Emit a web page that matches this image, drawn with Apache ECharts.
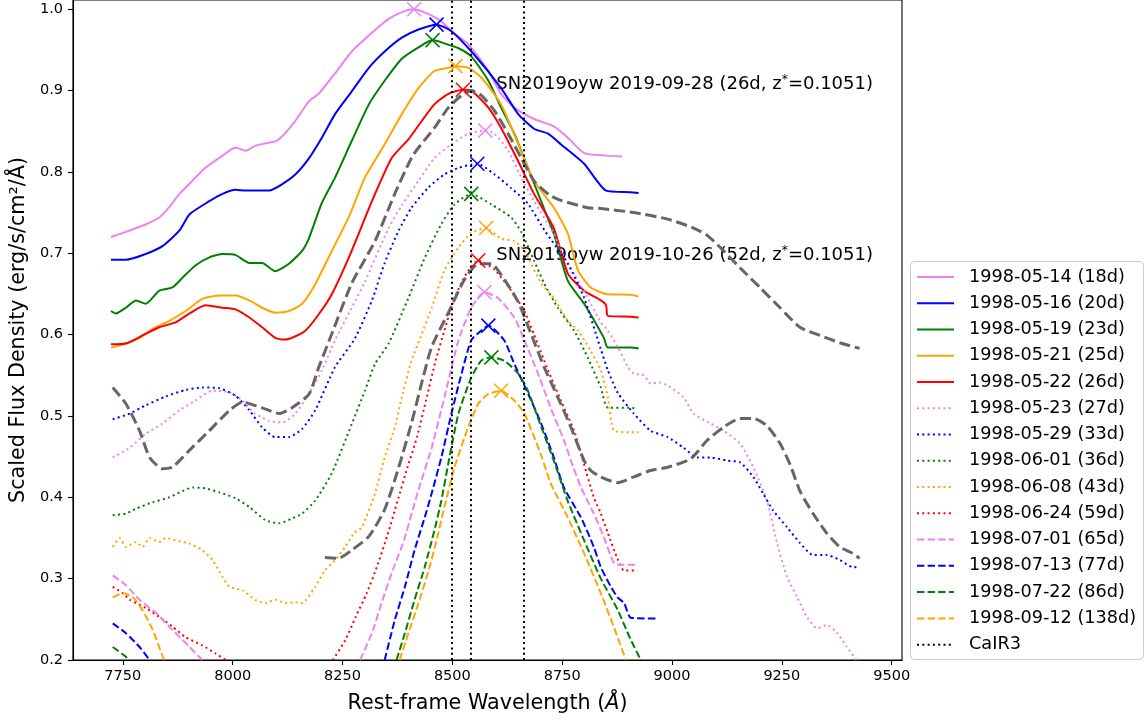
<!DOCTYPE html>
<html>
<head>
<meta charset="utf-8">
<script src="https://cdn.jsdelivr.net/npm/echarts@6/dist/echarts.min.js"></script>
<style>
  html, body { margin: 0; padding: 0; background: #fff; }
  #chart { width: 1144px; height: 721px; }
</style>
</head>
<body>
<div id="chart"></div>
<script>
// axis ticks
const xTicks = [7750, 8000, 8250, 8500, 8750, 9000, 9250, 9500];
const yTicks = [0.2, 0.3, 0.4, 0.5, 0.6, 0.7, 0.8, 0.9, 1.0];

// CaII IR triplet (rest wavelengths)
const caIR3 = [8498.02, 8542.09, 8662.14];

const names = ['1998-05-14 (18d)', '1998-05-16 (20d)', '1998-05-19 (23d)', '1998-05-21 (25d)', '1998-05-22 (26d)',
  '1998-05-23 (27d)', '1998-05-29 (33d)', '1998-06-01 (36d)', '1998-06-08 (43d)', '1998-06-24 (59d)',
  '1998-07-01 (65d)', '1998-07-13 (77d)', '1998-07-22 (86d)', '1998-09-12 (138d)'];

// peak positions (x markers)
const peakWl = [8413, 8464, 8455, 8507, 8524, 8575, 8557, 8543, 8577, 8559, 8573, 8582, 8589, 8611];
const peakFlux = [1.0, 0.981, 0.962, 0.93, 0.901, 0.851, 0.81, 0.773, 0.731, 0.691, 0.652, 0.611, 0.572, 0.531];

// spectra, [wavelength, scaled flux]
const may14 = [[7723,0.72],[7766,0.728],[7800,0.735],[7833,0.744],[7856,0.757],[7879,0.773],[7910,0.79],[7938,0.805],[7977,0.82],[8006,0.83],[8030,0.826],[8051,0.832],[8083,0.836],[8100,0.838],[8120,0.848],[8143,0.863],[8174,0.887],[8196,0.896],[8233,0.921],[8271,0.948],[8317,0.971],[8355,0.988],[8392,0.998],[8413,1.0],[8446,0.994],[8475,0.985],[8498,0.973],[8536,0.957],[8582,0.924],[8611,0.896],[8641,0.879],[8686,0.865],[8731,0.856],[8763,0.842],[8800,0.823],[8850,0.82],[8886,0.819]];
const may16 = [[7723,0.692],[7757,0.692],[7802,0.699],[7841,0.709],[7879,0.728],[7902,0.748],[7947,0.764],[7977,0.773],[8006,0.778],[8030,0.777],[8051,0.777],[8083,0.777],[8113,0.785],[8143,0.797],[8174,0.817],[8203,0.842],[8233,0.871],[8271,0.899],[8310,0.928],[8346,0.948],[8385,0.965],[8423,0.975],[8464,0.981],[8498,0.973],[8550,0.944],[8611,0.903],[8650,0.871],[8686,0.853],[8718,0.847],[8747,0.834],[8800,0.81],[8850,0.777],[8906,0.775],[8924,0.774]];
const may19 = [[7723,0.629],[7734,0.626],[7757,0.633],[7780,0.642],[7802,0.638],[7833,0.654],[7863,0.658],[7886,0.67],[7915,0.685],[7947,0.695],[7977,0.699],[8006,0.698],[8038,0.688],[8067,0.688],[8097,0.678],[8128,0.687],[8158,0.703],[8174,0.719],[8203,0.762],[8233,0.793],[8271,0.838],[8310,0.883],[8346,0.912],[8385,0.939],[8423,0.953],[8455,0.962],[8482,0.958],[8514,0.952],[8543,0.942],[8582,0.912],[8611,0.879],[8641,0.847],[8672,0.805],[8702,0.764],[8731,0.724],[8763,0.666],[8800,0.638],[8845,0.596],[8854,0.584],[8906,0.584],[8924,0.583]];
const may21 = [[7723,0.584],[7757,0.589],[7788,0.596],[7818,0.607],[7856,0.617],[7893,0.629],[7931,0.644],[7970,0.648],[8006,0.648],[8038,0.642],[8067,0.633],[8097,0.627],[8128,0.629],[8158,0.638],[8188,0.662],[8226,0.703],[8264,0.744],[8301,0.793],[8346,0.834],[8385,0.871],[8423,0.903],[8459,0.924],[8491,0.928],[8507,0.93],[8536,0.928],[8566,0.916],[8611,0.883],[8650,0.834],[8686,0.789],[8731,0.756],[8763,0.724],[8786,0.679],[8815,0.658],[8850,0.65],[8906,0.649],[8924,0.647]];
const may22 = [[7723,0.588],[7757,0.589],[7795,0.599],[7833,0.609],[7870,0.615],[7902,0.626],[7938,0.636],[7977,0.633],[8006,0.631],[8038,0.621],[8067,0.609],[8097,0.596],[8120,0.594],[8143,0.598],[8166,0.605],[8196,0.625],[8226,0.65],[8271,0.703],[8317,0.764],[8362,0.817],[8400,0.84],[8423,0.857],[8459,0.883],[8491,0.896],[8524,0.901],[8543,0.9],[8582,0.879],[8611,0.854],[8650,0.813],[8686,0.773],[8731,0.731],[8763,0.675],[8800,0.654],[8838,0.642],[8850,0.636],[8854,0.623],[8906,0.622],[8924,0.621]];
const may23 = [[7727,0.449],[7766,0.461],[7802,0.478],[7841,0.491],[7879,0.507],[7915,0.519],[7954,0.531],[7993,0.529],[8022,0.519],[8051,0.503],[8083,0.494],[8113,0.492],[8143,0.503],[8174,0.528],[8203,0.556],[8233,0.593],[8271,0.633],[8301,0.665],[8355,0.731],[8385,0.759],[8423,0.789],[8459,0.817],[8498,0.834],[8536,0.847],[8575,0.851],[8596,0.847],[8627,0.826],[8657,0.793],[8686,0.764],[8731,0.724],[8747,0.703],[8777,0.675],[8808,0.645],[8838,0.615],[8854,0.605],[8877,0.584],[8900,0.56],[8913,0.552],[8936,0.55],[8951,0.54],[8974,0.541],[8997,0.535],[9026,0.523],[9049,0.503],[9087,0.491],[9117,0.482],[9155,0.466],[9185,0.437],[9216,0.396],[9239,0.344],[9262,0.302],[9285,0.277],[9307,0.253],[9330,0.239],[9352,0.243],[9375,0.234],[9398,0.216],[9420,0.2]];
const may29 = [[7727,0.496],[7766,0.503],[7802,0.513],[7848,0.524],[7893,0.532],[7931,0.535],[7970,0.534],[8006,0.525],[8038,0.507],[8067,0.486],[8097,0.474],[8128,0.474],[8158,0.484],[8188,0.507],[8233,0.56],[8278,0.595],[8317,0.642],[8346,0.688],[8378,0.728],[8407,0.756],[8446,0.781],[8482,0.797],[8514,0.805],[8557,0.81],[8596,0.797],[8634,0.78],[8672,0.761],[8710,0.728],[8763,0.687],[8800,0.645],[8838,0.582],[8854,0.556],[8877,0.528],[8913,0.503],[8951,0.482],[8990,0.474],[9026,0.461],[9058,0.449],[9087,0.449],[9126,0.445],[9155,0.443],[9185,0.425],[9207,0.405],[9230,0.384],[9262,0.363],[9291,0.344],[9321,0.329],[9352,0.329],[9382,0.323],[9412,0.314],[9427,0.315]];
const jun01 = [[7727,0.378],[7757,0.38],[7780,0.386],[7818,0.394],[7856,0.4],[7879,0.406],[7909,0.412],[7938,0.411],[7970,0.406],[8006,0.399],[8038,0.388],[8074,0.372],[8106,0.368],[8135,0.374],[8158,0.38],[8188,0.396],[8226,0.43],[8271,0.49],[8301,0.531],[8324,0.564],[8355,0.589],[8400,0.645],[8437,0.694],[8475,0.736],[8505,0.76],[8543,0.773],[8589,0.76],[8634,0.744],[8657,0.726],[8686,0.691],[8709,0.663],[8740,0.633],[8777,0.605],[8808,0.572],[8838,0.535],[8854,0.51],[8906,0.51],[8921,0.509]];
const jun08 = [[7727,0.339],[7743,0.35],[7757,0.339],[7780,0.345],[7795,0.339],[7811,0.35],[7833,0.345],[7848,0.35],[7870,0.347],[7902,0.343],[7931,0.335],[7954,0.323],[7977,0.302],[7993,0.29],[8022,0.286],[8051,0.274],[8074,0.27],[8097,0.274],[8120,0.27],[8143,0.271],[8158,0.27],[8188,0.29],[8210,0.31],[8233,0.323],[8256,0.339],[8278,0.357],[8294,0.363],[8324,0.405],[8346,0.449],[8369,0.486],[8385,0.523],[8407,0.568],[8430,0.6],[8453,0.633],[8482,0.679],[8514,0.707],[8543,0.725],[8577,0.731],[8611,0.718],[8641,0.715],[8664,0.703],[8702,0.663],[8731,0.645],[8763,0.617],[8786,0.605],[8815,0.58],[8838,0.556],[8854,0.523],[8868,0.482],[8906,0.48],[8924,0.48]];
const jun24a = [[7727,0.29],[7750,0.282],[7766,0.274],[7802,0.264],[7833,0.253],[7863,0.241],[7893,0.228],[7931,0.218],[7961,0.208],[7984,0.2]];
const jun24b = [[8228,0.2],[8256,0.224],[8280,0.253],[8305,0.282],[8328,0.314],[8352,0.353],[8375,0.395],[8398,0.437],[8420,0.475],[8440,0.519],[8462,0.568],[8482,0.605],[8505,0.645],[8532,0.675],[8559,0.691],[8596,0.68],[8634,0.654],[8664,0.629],[8686,0.6],[8718,0.556],[8747,0.519],[8777,0.482],[8800,0.44],[8822,0.4],[8838,0.38],[8854,0.356],[8877,0.323],[8891,0.31],[8921,0.31]];
const jul01a = [[7727,0.304],[7757,0.292],[7788,0.274],[7825,0.258],[7863,0.237],[7902,0.216],[7931,0.2]];
const jul01b = [[8290,0.2],[8317,0.233],[8339,0.27],[8362,0.307],[8390,0.347],[8410,0.385],[8423,0.409],[8453,0.461],[8482,0.523],[8514,0.593],[8543,0.633],[8573,0.652],[8604,0.645],[8641,0.621],[8664,0.593],[8695,0.552],[8724,0.51],[8754,0.47],[8770,0.445],[8793,0.412],[8822,0.38],[8845,0.351],[8868,0.319],[8883,0.317],[8921,0.317]];
const jul13a = [[7727,0.245],[7757,0.233],[7788,0.216],[7811,0.2]];
const jul13b = [[8346,0.2],[8369,0.249],[8392,0.29],[8414,0.335],[8437,0.375],[8453,0.405],[8475,0.449],[8498,0.503],[8521,0.552],[8543,0.593],[8566,0.605],[8582,0.611],[8618,0.593],[8641,0.564],[8672,0.528],[8702,0.491],[8731,0.449],[8754,0.412],[8793,0.375],[8822,0.339],[8838,0.314],[8861,0.29],[8876,0.277],[8891,0.27],[8906,0.252],[8963,0.251]];
const jul22a = [[7727,0.216],[7757,0.204],[7761,0.2]];
const jul22b = [[8373,0.2],[8392,0.233],[8414,0.274],[8437,0.314],[8459,0.359],[8475,0.396],[8491,0.442],[8514,0.503],[8543,0.547],[8566,0.568],[8589,0.572],[8618,0.568],[8650,0.552],[8672,0.531],[8700,0.49],[8731,0.445],[8763,0.395],[8800,0.347],[8838,0.3],[8876,0.262],[8906,0.225],[8929,0.2]];
const sep12a = [[7727,0.277],[7750,0.282],[7773,0.277],[7795,0.261],[7818,0.237],[7841,0.204],[7845,0.2]];
const sep12b = [[8380,0.2],[8400,0.233],[8423,0.27],[8446,0.31],[8464,0.347],[8482,0.388],[8505,0.437],[8536,0.486],[8559,0.515],[8582,0.527],[8611,0.531],[8641,0.519],[8664,0.503],[8702,0.452],[8724,0.417],[8763,0.375],[8800,0.331],[8838,0.282],[8868,0.24],[8895,0.2]];

// SN2019oyw comparison spectra
const oywSep28 = [[7727,0.535],[7757,0.515],[7788,0.482],[7811,0.449],[7841,0.435],[7863,0.437],[7902,0.458],[7947,0.482],[7993,0.507],[8022,0.517],[8067,0.51],[8106,0.503],[8135,0.51],[8174,0.527],[8196,0.56],[8230,0.607],[8271,0.663],[8324,0.715],[8369,0.773],[8410,0.82],[8459,0.854],[8491,0.879],[8521,0.894],[8543,0.9],[8566,0.894],[8596,0.875],[8627,0.847],[8657,0.817],[8686,0.789],[8720,0.772],[8747,0.765],[8808,0.756],[8838,0.755],[8913,0.75],[8990,0.742],[9049,0.731],[9080,0.722],[9110,0.707],[9155,0.682],[9200,0.658],[9246,0.633],[9291,0.609],[9337,0.599],[9382,0.59],[9427,0.583]];
const oywOct26 = [[8210,0.326],[8241,0.325],[8271,0.335],[8310,0.352],[8346,0.385],[8378,0.437],[8407,0.491],[8430,0.54],[8453,0.585],[8491,0.627],[8527,0.667],[8559,0.687],[8589,0.687],[8618,0.668],[8650,0.64],[8679,0.601],[8709,0.56],[8740,0.523],[8770,0.486],[8800,0.445],[8815,0.433],[8838,0.425],[8876,0.418],[8913,0.425],[8951,0.433],[8990,0.437],[9042,0.447],[9080,0.47],[9117,0.486],[9155,0.497],[9185,0.497],[9216,0.488],[9246,0.466],[9269,0.44],[9291,0.408],[9321,0.38],[9352,0.356],[9382,0.339],[9412,0.331],[9427,0.325]];

const oywLabels = ['SN2019oyw 2019-09-28 (26d, z{s|*}=0.1051)', 'SN2019oyw 2019-10-26 (52d, z{s|*}=0.1051)'];
const oywLabelPos = [[8600, 0.9], [8600, 0.69]];

const spectra = [[may14], [may16], [may19], [may21], [may22], [may23], [may29], [jun01], [jun08],
  [jun24a, jun24b], [jul01a, jul01b], [jul13a, jul13b], [jul22a, jul22b], [sep12a, sep12b]];

const colors = ['#ee82ee', '#0000ff', '#008000', '#ffa500', '#ff0000'];
const FONT = '"DejaVu Sans", sans-serif';
const DOT = [2, 3.3];
const DASH = [7.4, 3.2];

const chart = echarts.init(document.getElementById('chart'));

// join broken pieces with a gap
const joinParts = (parts) => {
  const out = [];
  parts.forEach((p, i) => {
    if (i > 0) out.push(['-', '-']);
    p.forEach(d => out.push(d));
  });
  return out;
};

const series = spectra.map((parts, i) => {
  const c = colors[i % 5];
  const type = i < 5 ? 'solid' : (i < 10 ? DOT : DASH);
  return {
    name: names[i],
    type: 'line',
    data: joinParts(parts),
    symbol: 'none',
    smooth: 0.2,
    connectNulls: false,
    lineStyle: { color: c, width: 2, type: type, cap: 'butt' },
    itemStyle: { color: c },
    emphasis: { disabled: true },
    markPoint: {
      silent: true,
      symbol: 'path://M0 0L10 10M10 0L0 10',
      symbolSize: 14,
      label: { show: false },
      itemStyle: { color: 'rgba(0,0,0,0)', borderColor: c, borderWidth: 1.5 },
      data: [{ coord: [peakWl[i], peakFlux[i]] }]
    },
    z: 3
  };
});

[oywSep28, oywOct26].forEach((d, i) => {
  series.push({
    name: 'SN2019oyw ' + i,
    type: 'line',
    data: d,
    symbol: 'none',
    smooth: 0.2,
    lineStyle: { color: '#666666', width: 3, type: [11.1, 4.8] },
    emphasis: { disabled: true },
    z: 4
  });
});

series.push({
  name: 'CaIR3',
  type: 'line',
  data: [],
  symbol: 'none',
  lineStyle: { color: '#000', width: 2, type: DOT },
  itemStyle: { color: '#000' },
  markLine: {
    silent: true,
    symbol: ['none', 'none'],
    label: { show: false },
    lineStyle: { color: '#000', width: 2, type: DOT },
    data: caIR3.map(x => ({ xAxis: x }))
  },
  z: 2
});

const option = {
  animation: false,
  backgroundColor: '#fff',
  textStyle: { fontFamily: FONT },
  grid: {
    left: 70, right: 242, top: -2, bottom: 61,
    show: true, borderColor: '#000', borderWidth: 1.1, backgroundColor: 'transparent'
  },
  xAxis: {
    type: 'value',
    min: 7636.5, max: 9523.5,
    name: 'Rest-frame Wavelength ({i|Å})',
    nameLocation: 'middle',
    nameGap: 33,
    nameTextStyle: { fontSize: 20.7, color: '#000', fontFamily: FONT, rich: { i: { fontSize: 20.7, fontStyle: 'italic', fontFamily: FONT } } },
    axisLine: { lineStyle: { color: '#000', width: 1.1 } },
    axisTick: { customValues: xTicks, length: 5, lineStyle: { color: '#000', width: 1.1 } },
    axisLabel: { customValues: xTicks, fontSize: 14.5, color: '#000', margin: 9, fontFamily: FONT,
      formatter: v => String(v) },
    splitLine: { show: false }
  },
  yAxis: {
    type: 'value',
    min: 0.2, max: 1.0113,
    name: 'Scaled Flux Density (erg/s/cm²/Å)',
    nameLocation: 'middle',
    nameGap: 36,
    nameTextStyle: { fontSize: 20.7, color: '#000', fontFamily: FONT },
    axisLine: { lineStyle: { color: '#000', width: 1.1 } },
    axisTick: { customValues: yTicks, length: 5, lineStyle: { color: '#000', width: 1.1 } },
    axisLabel: { customValues: yTicks, fontSize: 14.5, color: '#000', margin: 10, fontFamily: FONT,
      formatter: v => v.toFixed(1) },
    splitLine: { show: false }
  },
  legend: {
    data: names.concat(['CaIR3']),
    orient: 'vertical',
    left: 910, top: 263,
    padding: [4, 8, 7, 6],
    itemWidth: 37, itemHeight: 14, itemGap: 6.26,
    selectedMode: false,
    z: 10,
    itemStyle: { opacity: 0 },
    textStyle: { fontSize: 17.7, color: '#000', fontFamily: FONT, lineHeight: 20, padding: [0, 0, 0, 10] }
  },
  series: series
};

chart.setOption(option);

// text labels next to the SN2019oyw spectra, anchored at data coords
const graphics = oywLabels.map((t, i) => {
  const p = chart.convertToPixel({ gridIndex: 0 }, oywLabelPos[i]);
  return {
    type: 'text',
    x: p[0], y: p[1] - 6.5,
    silent: true,
    style: {
      text: t,
      fill: '#000',
      font: '18px ' + FONT,
      align: 'left',
      verticalAlign: 'middle',
      rich: {
        s: { fontSize: 12.5, fontFamily: FONT, verticalAlign: 'top', lineHeight: 22, fill: '#000' }
      }
    }
  };
});
// legend frame
graphics.push({
  type: 'rect',
  silent: true,
  z: 5,
  shape: { x: 910.5, y: 261.5, width: 233, height: 398, r: 4 },
  style: { fill: '#fff', stroke: '#cccccc', lineWidth: 1 }
});
chart.setOption({ graphic: graphics });
</script>
</body>
</html>
